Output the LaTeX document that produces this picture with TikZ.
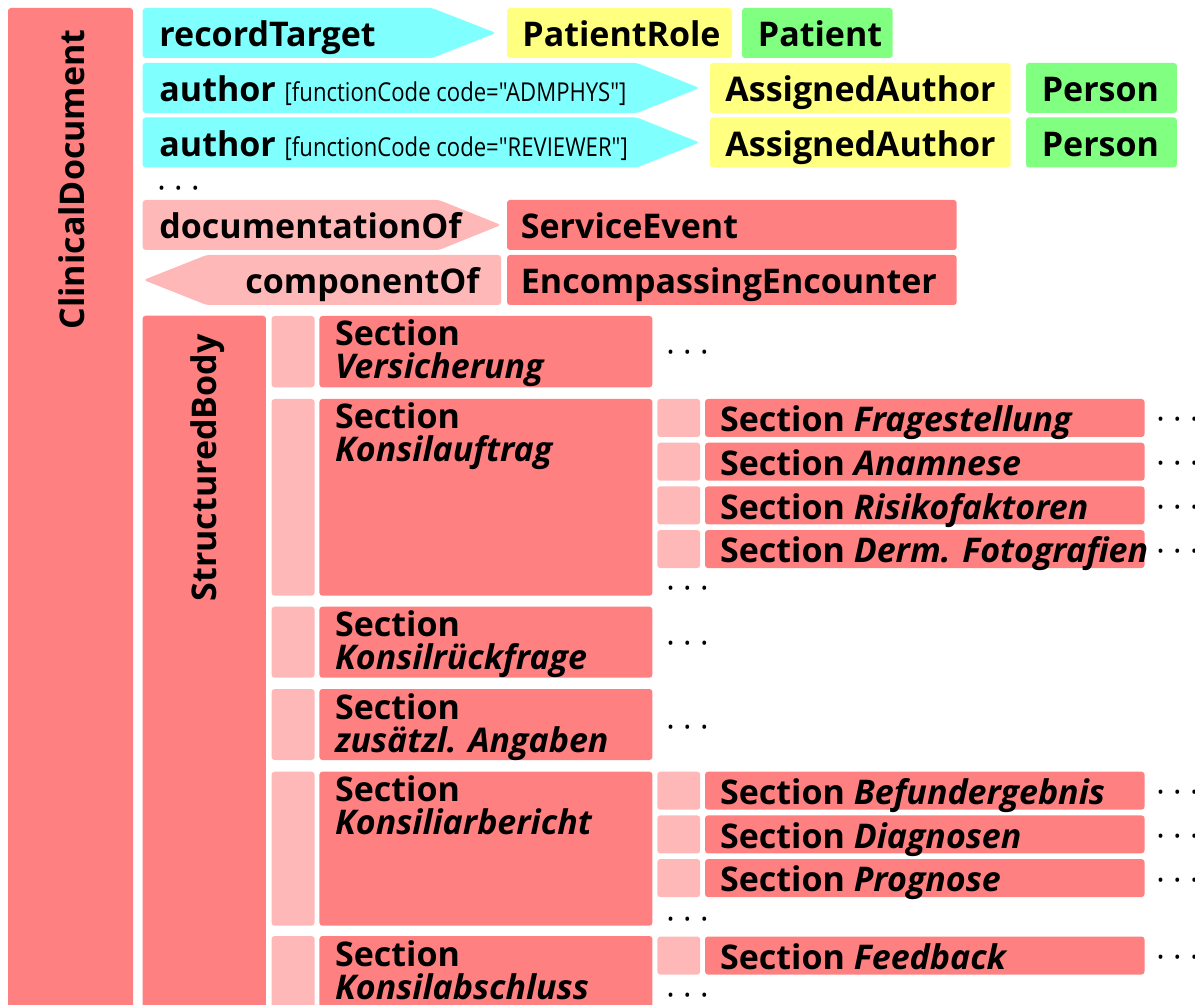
\documentclass[tikz,border=0pt]{standalone}
\usepackage{fontspec}
\setmainfont{Open Sans}
\newfontfamily\condfont[FakeStretch=0.85]{Open Sans}

\definecolor{cdared}{HTML}{FF8080}
\definecolor{cdapink}{HTML}{FFB8B8}
\definecolor{cdacyan}{HTML}{80FFFF}
\definecolor{cdayellow}{HTML}{FFFF80}
\definecolor{cdagreen}{HTML}{80FF80}

\tikzset{
    lbl/.style={anchor=base west, inner sep=0pt,
        font=\fontsize{17}{17}\selectfont\bfseries},
    dotlbl/.style={anchor=base west, inner sep=0pt,
        font=\fontsize{16}{16}\selectfont},
    boxfill/.style={fill=#1, rounded corners=1.5},
}

\begin{document}
\begin{tikzpicture}[x=0.5pt, y=-0.5pt]
    \useasboundingbox (0,0) rectangle (1195,1005);

    % ClinicalDocument column
    \fill[boxfill=cdared] (8,8) rectangle (133,1030);
    \node[lbl, rotate=90, anchor=base east] (clindoc) at (84,29) {ClinicalDocument};

    % recordTarget
    \fill[boxfill=cdacyan] (142.7,8) -- (432,8) -- (496,33) -- (432,58) -- (142.7,58) -- cycle;
    \node[lbl] (rectarget) at (159,46.7) {recordTarget};
    \fill[boxfill=cdayellow] (507,8) rectangle (732,58);
    \node[lbl] (patrole) at (522,46.7) {PatientRole};
    \fill[boxfill=cdagreen] (742,8) rectangle (892.6,58);
    \node[lbl] (patient) at (757.5,46.7) {Patient};

    % authors
    \foreach \y/\code [count=\i] in {63/ADMPHYS, 117.5/REVIEWER} {
        \fill[boxfill=cdacyan] (142.7,\y) -- (637,\y) -- (699.4,\y+25)
            -- (637,\y+50) -- (142.7,\y+50) -- cycle;
        \node[lbl] (author\i) at (159,\y+38.7)
        {author {\condfont\mdseries\fontsize{13}{13}\selectfont
            [functionCode code="\code"]}};
        \fill[boxfill=cdayellow] (710,\y) rectangle (1010.6,\y+50);
        \node[lbl] (assauthor\i) at (725,\y+38.7) {AssignedAuthor};
        \fill[boxfill=cdagreen] (1026,\y) rectangle (1176.8,\y+50);
        \node[lbl] (person\i) at (1041.4,\y+38.7) {Person};
    }
    \node[dotlbl] (hdrdots) at (157,200) {· · ·};

    % documentationOf and componentOf
    \fill[boxfill=cdapink] (142.7,200) -- (439,200) -- (501,225) -- (439,250) -- (142.7,250) -- cycle;
    \node[lbl] (docof) at (159,238.7) {documentationOf};
    \fill[boxfill=cdared] (507,200) rectangle (956.7,250);
    \node[lbl] (servevent) at (520.5,238.7) {ServiceEvent};
    \fill[boxfill=cdapink] (143.5,280) -- (206.6,255) -- (501,255) -- (501,305) -- (206.6,305) -- cycle;
    \node[lbl, anchor=base east] (compof) at (480,293.7) {componentOf};
    \fill[boxfill=cdared] (507,255) rectangle (956.7,305);
    \node[lbl] (encounter) at (520.5,293.7) {EncompassingEncounter};

    % StructuredBody column
    \fill[boxfill=cdared] (142.6,315.7) rectangle (265.9,1030);
    \node[lbl, rotate=90, anchor=base east] (strucbody) at (216,334) {StructuredBody};

    % Sections of the body
    \foreach \y/\h/\name [count=\i] in {316/71.3/Versicherung,
            399/196.7/Konsilauftrag, 606.7/71/Konsilrückfrage,
            689/71/{zusätzl. Angaben}, 771.7/154/Konsiliarbericht,
            936/100/Konsilabschluss} {
        \fill[boxfill=cdapink] (271.6,\y) rectangle (314.5,\y+\h);
        \fill[boxfill=cdared] (319.4,\y) rectangle (652.4,\y+\h);
        \node[lbl] (sec\i) at (334.7,\y+30) {Section};
        \node[lbl, font=\fontsize{17}{17}\selectfont\bfseries\itshape]
        (sec\i name) at (334.7,\y+63) {\name};
    }

    % Subsections
    \foreach \y/\name [count=\i] in {399/Fragestellung, 442.7/Anamnese,
            486.4/Risikofaktoren, 530.1/{Derm. Fotografien},
            771.7/Befundergebnis, 815.4/Diagnosen, 859.1/Prognose,
            936.5/Feedback} {
        \fill[boxfill=cdapink] (657.3,\y) rectangle (700.2,\y+38);
        \fill[boxfill=cdared] (705,\y) rectangle (1144.5,\y+38);
        \node[lbl] (sub\i) at (719.7,\y+32.7) {Section \textit{\name}};
        \node[dotlbl] (sub\i dots) at (1156,\y+32) {· · ·};
    }

    % more sections
    \foreach \y [count=\i] in {351, 587, 641, 725.7, 917, 993} {
        \node[dotlbl] (secdots\i) at (666,\y+13) {· · ·};
    }
\end{tikzpicture}
\end{document}
